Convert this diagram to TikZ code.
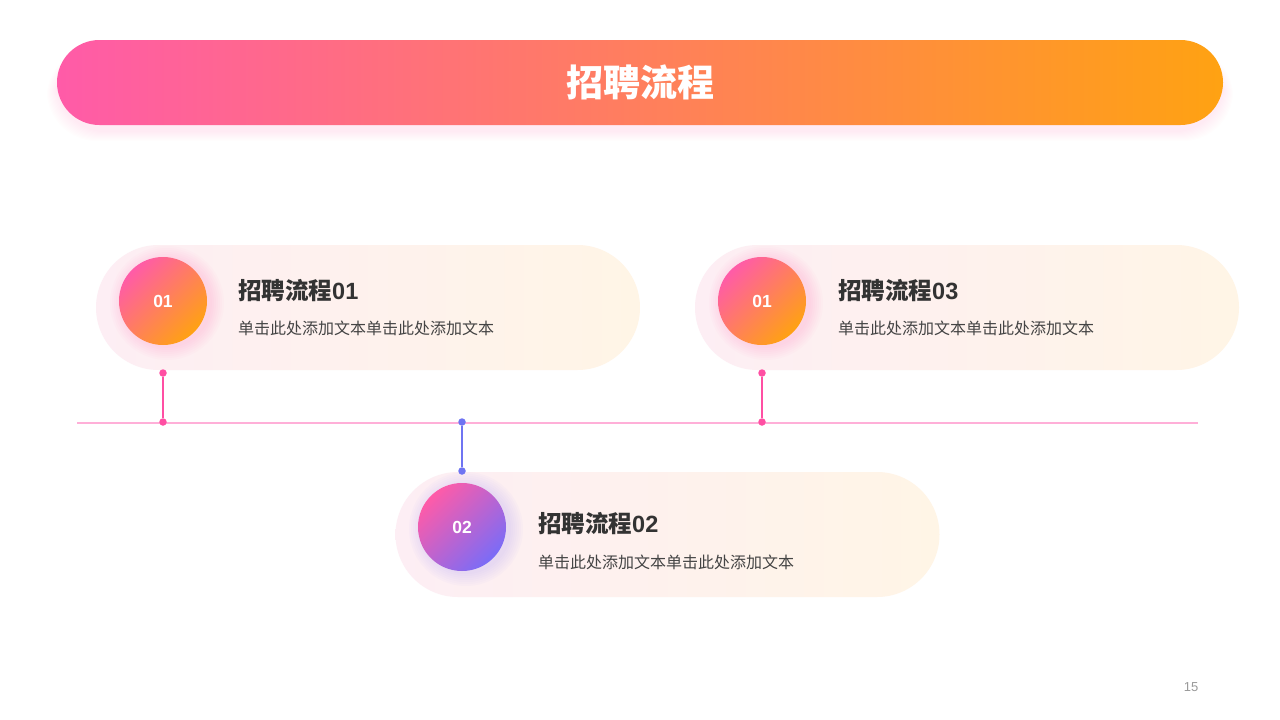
\documentclass[tikz,border=0pt]{standalone}
\usepackage{fontspec}
\setmainfont{Noto Sans CJK SC}
\newfontfamily\numfont{Liberation Sans}
\newfontfamily\numbold{Liberation Sans}[UprightFont={* Bold}]
\definecolor{pinkA}{HTML}{FF5BA8}
\definecolor{orangeA}{HTML}{FFA212}
\definecolor{blueA}{HTML}{7A6CF7}
\definecolor{cardL}{HTML}{FDEEF4}
\definecolor{cardR}{HTML}{FFF5E6}
\definecolor{tlcol}{HTML}{FFAFD8}
\definecolor{dotpink}{HTML}{FF4FA3}
\definecolor{dotblue}{HTML}{6F74F2}
\definecolor{txtdark}{HTML}{333333}
\definecolor{txtmid}{HTML}{444444}
\definecolor{pgrey}{HTML}{9A9A9A}
\begin{document}
\begin{tikzpicture}[x=1pt,y=-1pt,
  titlebar/.style={rectangle, rounded corners=42.5pt, minimum width=1166pt, minimum height=85pt,
    left color=pinkA, right color=orangeA, draw=none, text=white,
    font=\bfseries\fontsize{37}{42}\selectfont},
  card/.style={rectangle, rounded corners=62.5pt, minimum width=544pt, minimum height=125pt,
    left color=cardL, right color=cardR, draw=none},
  circ/.style={circle, minimum size=88pt, inner sep=0pt, draw=none, text=white,
    font=\numbold\fontsize{17.5}{20}\selectfont},
  ctitle/.style={anchor=west, inner sep=0pt, text=txtdark, font=\bfseries\fontsize{23.5}{28}\selectfont},
  csub/.style={anchor=west, inner sep=0pt, text=txtmid, font=\fontsize{16}{19}\selectfont},
  pdot/.style={circle, fill=dotpink, minimum size=7.5pt, inner sep=0pt},
  bdot/.style={circle, fill=dotblue, minimum size=7.5pt, inner sep=0pt},
  pconn/.style={draw=dotpink, line width=1.2pt},
  bconn/.style={draw=dotblue, line width=1.2pt},
  tline/.style={draw=tlcol, line width=1.6pt}]
\useasboundingbox[fill=white] (0,0) rectangle (1280,720);

% title shadow
\foreach \i in {1,...,10}{
  \fill[pinkA, opacity=0.013, rounded corners=50pt] (57-\i,50-0.3*\i) rectangle (1223+\i,131+\i);
}
\node[titlebar] (title) at (640,82.5) {招聘流程};

% cards
\node[card] (card1) at (368,307.5) {};
\node[card] (card3) at (967,307.5) {};
\node[card] (card2) at (667.5,534.5) {};

% glows
\foreach \r in {45,47,...,57}{
  \fill[pinkA, opacity=0.022] (167,303) circle (\r pt);
  \fill[pinkA, opacity=0.022] (766,303) circle (\r pt);
  \fill[blueA, opacity=0.022] (466,529) circle (\r pt);
}

% circles
\node[circ, top color=pinkA, bottom color=orangeA, shading angle=45] (c1) at (163,301) {01};
\node[circ, top color=pinkA, bottom color=orangeA, shading angle=45] (c3) at (762,301) {01};
\node[circ, top color=pinkA, bottom color=blueA, shading angle=45] (c2) at (462,527) {02};

% texts
\node[ctitle] (t1) at (238,291) {招聘流程{\numbold 01}};
\node[csub] (s1) at (238,328) {单击此处添加文本单击此处添加文本};
\node[ctitle] (t3) at (838,291) {招聘流程{\numbold 03}};
\node[csub] (s3) at (838,328) {单击此处添加文本单击此处添加文本};
\node[ctitle] (t2) at (538,524) {招聘流程{\numbold 02}};
\node[csub] (s2) at (538,562) {单击此处添加文本单击此处添加文本};

% timeline
\coordinate (tlL) at (77,423);
\coordinate (tlR) at (1198,423);
\draw[tline] (tlL) -- (tlR);

\node[pdot] (d1a) at (163,373) {};
\node[pdot] (d1b) at (163,422) {};
\draw[pconn] (d1a) -- (d1b);
\node[pdot] (d3a) at (762,373) {};
\node[pdot] (d3b) at (762,422) {};
\draw[pconn] (d3a) -- (d3b);
\node[bdot] (d2a) at (462,422) {};
\node[bdot] (d2b) at (462,471) {};
\draw[bconn] (d2a) -- (d2b);

\node[text=pgrey, font=\numfont\fontsize{13}{15}\selectfont] (pg) at (1191,687) {15};
\end{tikzpicture}
\end{document}
